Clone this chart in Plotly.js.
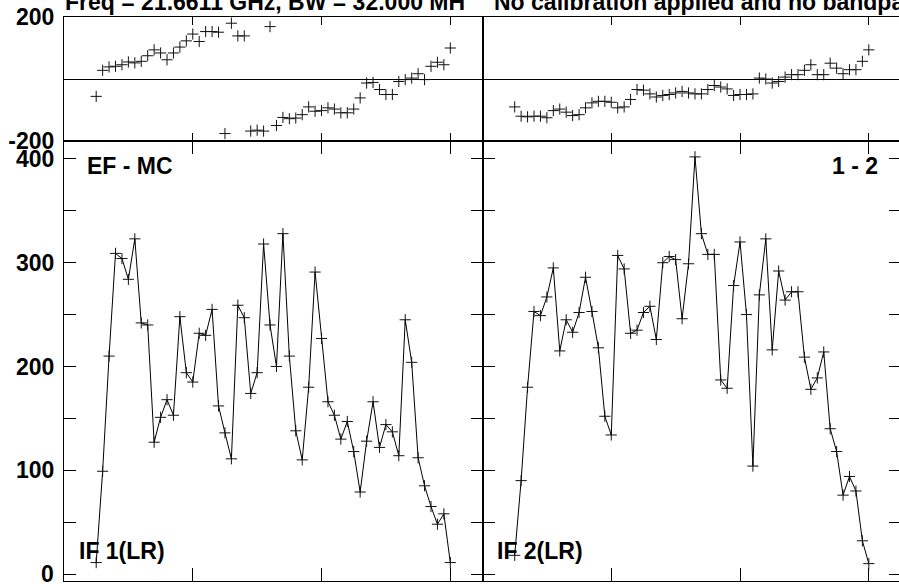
<!DOCTYPE html>
<html><head><meta charset="utf-8">
<script src="https://cdn.plot.ly/plotly-3.0.1.min.js"></script>
<style>html,body{margin:0;padding:0;overflow:hidden;background:#fff}#chart{width:901px;height:584px}</style>
</head><body><div id="chart"></div>
<script>
const channels = [5,6,7,8,9,10,11,12,13,14,15,16,17,18,19,20,21,22,23,24,25,26,27,28,29,30,31,32,33,34,35,36,37,38,39,40,41,42,43,44,45,46,47,48,49,50,51,52,53,54,55,56,57,58,59,60];
const ampIF1 = [11,99,210,309,304,284,323,242,240,127,151,168,153,248,194,185,232,230,255,162,136,111,259,247,174,194,318,240,200,328,210,138,110,180,291,227,166,153,130,147,118,79,128,166,122,144,137,114,245,204,112,85,65,48,58,11];
const ampIF2 = [18,90,180,253,249,267,295,215,245,233,252,286,253,218,152,134,307,294,232,235,252,258,226,300,306,303,246,299,402,328,308,308,187,179,278,320,250,104,269,323,216,292,264,272,272,209,178,189,214,140,118,76,94,80,32,10];
const phaseIF1 = [-56,28,39,41,46,55,52,57,75,94,84,62,84,103,123,145,121,153,153,151,-176,180,139,139,-168,-165,-168,169,-150,-124,-128,-126,-115,-90,-104,-102,-93,-97,-109,-109,-97,-61,-13,-11,-34,-50,-50,-8,-2,3,17,-2,41,54,46,100];
const phaseIF2 = [-90,-120,-122,-120,-120,-125,-102,-97,-107,-118,-115,-93,-77,-72,-72,-75,-93,-90,-66,-34,-36,-48,-58,-53,-50,-45,-40,-45,-48,-48,-34,-21,-26,-32,-53,-50,-50,-48,3,0,-13,-8,6,14,14,28,46,14,14,51,35,17,30,30,57,94];
const xTicks = [0,20,40,60];
const ampTicks = [0,50,100,150,200,250,300,350,400];
const ampTickText = ['','','100','','200','','300','','400'];
const zeroLabel = '0';
const phaseTicks = [-200,200];
const phaseTickText = ['-200','200'];
const titleLeft = 'Freq = 21.6611 GHz, BW = 32.000 MH';
const titleRight = 'No calibration applied and no bandpass applied';
const baselineLabel = 'EF - MC';
const corrLabel = '1 - 2';
const ifLabels = ['IF 1(LR)','IF 2(LR)'];

const FONT = 'Liberation Sans, Arial, Helvetica, sans-serif';
const mk = {symbol:'cross-thin', size:8, color:'#000', line:{width:1, color:'#111'}};
function ampTrace(y, xa, ya){return {x:channels, y:y, xaxis:xa, yaxis:ya, mode:'lines+markers', line:{color:'#000', width:1}, marker:mk, cliponaxis:false, hoverinfo:'skip'};}
function phTrace(y, xa, ya){return {x:channels, y:y, xaxis:xa, yaxis:ya, mode:'markers', marker:mk, cliponaxis:false, hoverinfo:'skip'};}
const data = [
  ampTrace(ampIF1,'x','y'), ampTrace(ampIF2,'x2','y2'),
  phTrace(phaseIF1,'x3','y3'), phTrace(phaseIF2,'x4','y4')
];
const common = {showline:true, linecolor:'#000', linewidth:1, mirror:'ticks', ticks:'inside', tickcolor:'#000', tickwidth:1, zeroline:false, showgrid:false, fixedrange:true,
  tickfont:{family:FONT, size:23, color:'#000', weight:700}};
const split = 0.78014;
const xr = [0,65];
const ampR = [-6.75,417.3];
const bfont = {family:FONT,size:23,color:'#000'};
const layout = {
  width:901, height:584, margin:{l:64, r:0, t:17, b:3, pad:0},
  paper_bgcolor:'#fff', plot_bgcolor:'#fff', showlegend:false,
  font:{family:FONT, size:23, color:'#000'},
  xaxis:Object.assign({}, common, {domain:[0,0.5], range:xr, tickvals:xTicks, showticklabels:false, ticklen:13, anchor:'y'}),
  yaxis:Object.assign({}, common, {domain:[0,split], range:ampR, tickvals:ampTicks, ticktext:ampTickText, ticklen:12, anchor:'x', ticklabelstandoff:4}),
  xaxis2:Object.assign({}, common, {domain:[0.5,1], range:xr, tickvals:xTicks, showticklabels:false, ticklen:13, anchor:'y2'}),
  yaxis2:Object.assign({}, common, {domain:[0,split], range:ampR, tickvals:ampTicks, showticklabels:false, ticklen:12, anchor:'x2'}),
  xaxis3:Object.assign({}, common, {domain:[0,0.5], range:xr, tickvals:xTicks, showticklabels:false, ticklen:8, anchor:'y3'}),
  yaxis3:Object.assign({}, common, {domain:[split,1], range:[-200,200], tickvals:phaseTicks, ticktext:phaseTickText, ticklen:8, anchor:'x3', zeroline:true, zerolinecolor:'#000', zerolinewidth:1, ticklabelstandoff:4}),
  xaxis4:Object.assign({}, common, {domain:[0.5,1], range:xr, tickvals:xTicks, showticklabels:false, ticklen:8, anchor:'y4'}),
  yaxis4:Object.assign({}, common, {domain:[split,1], range:[-200,200], tickvals:phaseTicks, showticklabels:false, ticklen:8, anchor:'x4', zeroline:true, zerolinecolor:'#000', zerolinewidth:1}),
  annotations:[
    {text:'<b>'+titleLeft+'</b>', xref:'paper', yref:'paper', x:-0.0012, y:1.0262, xanchor:'left', yanchor:'middle', showarrow:false, font:bfont},
    {text:'<b>'+titleRight+'</b>', xref:'paper', yref:'paper', x:0.5113, y:1.0262, xanchor:'left', yanchor:'middle', showarrow:false, font:bfont},
    {text:'<b>'+baselineLabel+'</b>', xref:'paper', yref:'paper', x:0.02509, y:0.7367, xanchor:'left', yanchor:'middle', showarrow:false, font:bfont},
    {text:'<b>'+corrLabel+'</b>', xref:'paper', yref:'paper', x:0.9749, y:0.7367, xanchor:'right', yanchor:'middle', showarrow:false, font:bfont},
    {text:'<b>'+ifLabels[0]+'</b>', xref:'paper', yref:'paper', x:0.01589, y:0.0532, xanchor:'left', yanchor:'middle', showarrow:false, font:bfont},
    {text:'<b>'+ifLabels[1]+'</b>', xref:'paper', yref:'paper', x:0.5155, y:0.0532, xanchor:'left', yanchor:'middle', showarrow:false, font:bfont},
    {text:'<b>'+zeroLabel+'</b>', xref:'paper', yref:'y', x:-0.00956, y:0, xanchor:'right', yanchor:'middle', showarrow:false, font:bfont}
  ]
};
Plotly.newPlot('chart', data, layout, {staticPlot:true, displayModeBar:false});
</script></body></html>
